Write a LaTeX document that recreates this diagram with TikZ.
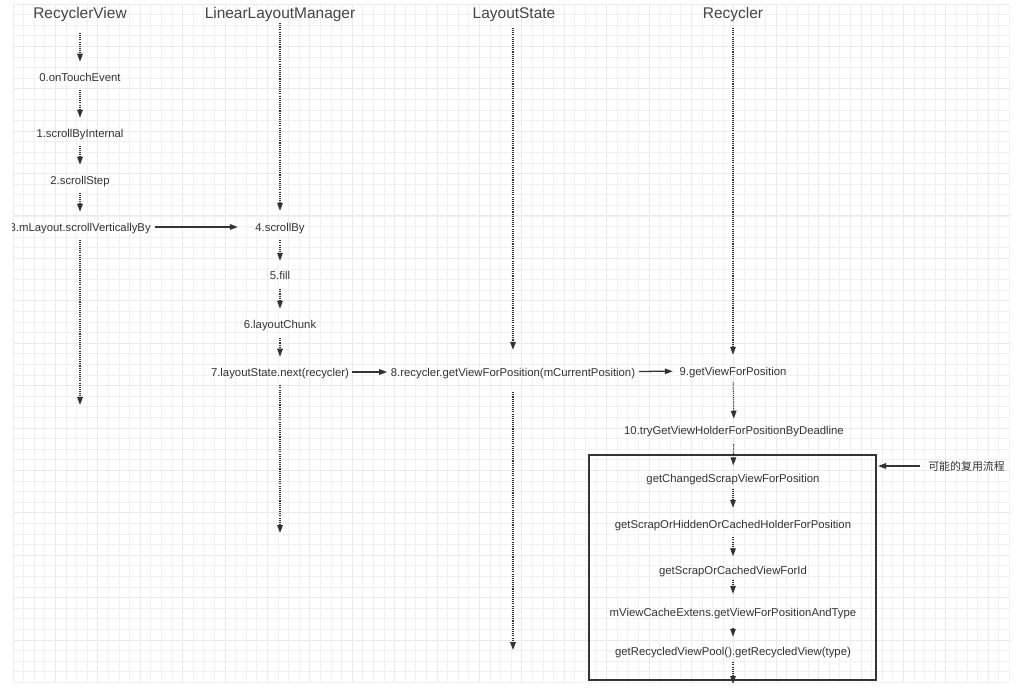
\documentclass[tikz,border=0pt]{standalone}
\usepackage{fontspec}
\setmainfont{Liberation Sans}
\newfontfamily\cjk{Noto Sans CJK SC}
\usetikzlibrary{arrows.meta}
\definecolor{ink}{HTML}{333333}
\definecolor{headink}{HTML}{454545}
\definecolor{gridminor}{HTML}{F1F1F1}
\definecolor{gridmajor}{HTML}{EAEAEA}
\tikzset{
  every node/.style={text=ink,inner sep=0pt},
  head/.style={font=\fontsize{11.6}{14}\selectfont,text=headink,text height=9.9pt,text depth=1.1pt},
  call/.style={font=\fontsize{8.5}{10}\selectfont,text height=7.4pt,text depth=1.1pt},
  note/.style={font=\cjk\fontsize{8.2}{10}\selectfont,text height=7.4pt,text depth=1.1pt},
  dotline/.style={-{Triangle[length=6pt,width=4.2pt]},draw=ink,line width=.9pt,dash pattern=on .8pt off .8pt,shorten <=5pt,shorten >=7pt},
  msg/.style={-{Triangle[length=6pt,width=4.2pt]},draw=ink,line width=.95pt},
  frame/.style={draw=ink,line width=1.1pt},
  fine/.style={draw=gridminor,line width=.7pt},
  coarse/.style={draw=gridmajor,line width=.75pt},
}

\begin{document}
\begin{tikzpicture}[x=.75pt,y=-.75pt]
\path[use as bounding box] (0,0) rectangle (1018,695);
\fill[white] (0,0) rectangle (1018,695);
% paper grid
\begin{scope}[shift={(13,4)}]
\draw[fine] (0,0) grid[step=7.95pt] (996.4,678.4);
\draw[coarse] (0,0) grid[step=31.8pt] (996.4,678.4);
\end{scope}
\clip (12,0) rectangle (1018,695);
% lifeline heads
\node[head] (rvHead) at (80,13) {RecyclerView};
\node[head] (llmHead) at (280,13) {LinearLayoutManager};
\node[head] (lsHead) at (514,13) {LayoutState};
\node[head] (recHead) at (733,13) {Recycler};
\coordinate (rvTop) at (80,33);
\coordinate (llmTop) at (280,23);
\coordinate (lsTop) at (513,28);
\coordinate (recTop) at (733,28);
\coordinate (rvEnd) at (80,405);
\coordinate (llmEnd) at (280,533);
\coordinate (lsEnd) at (513,650);
\coordinate (recEnd) at (733,684);
% RecyclerView
\node[call] (s0) at (80,77) {0.onTouchEvent};
\node[call] (s1) at (80,133) {1.scrollByInternal};
\node[call] (s2) at (80,180) {2.scrollStep};
\node[call,anchor=east] (s3) at (151,227) {3.mLayout.scrollVerticallyBy};
\draw[dotline,shorten <=0pt] (rvTop) -- (s0);
\draw[dotline] (s0) -- (s1);
\draw[dotline] (s1) -- (s2);
\draw[dotline] (s2) -- (s2 |- s3.north);
\draw[dotline,shorten >=0pt] (s3.south -| s2) -- (rvEnd);
% LinearLayoutManager
\node[call] (s4) at (280,227) {4.scrollBy};
\node[call] (s5) at (280,275) {5.fill};
\node[call] (s6) at (280,324) {6.layoutChunk};
\node[call] (s7) at (280,372) {7.layoutState.next(recycler)};
\draw[msg,shorten <=3pt,shorten >=13pt] (s3) -- (s4);
\draw[dotline,shorten <=0pt,shorten >=7.7pt] (llmTop) -- (s4);
\draw[dotline,shorten <=5.5pt,shorten >=6.2pt] (s4) -- (s5);
\draw[dotline,shorten <=6.2pt] (s5) -- (s6);
\draw[dotline,shorten <=6.2pt] (s6) -- (s7);
\draw[dotline,shorten <=5.5pt,shorten >=0pt] (s7) -- (llmEnd);
% LayoutState
\node[call] (s8) at (513,372) {8.recycler.getViewForPosition(mCurrentPosition)};
\draw[msg,shorten <=2.2pt,shorten >=2.6pt] (s7) -- (s8);
\draw[dotline,shorten <=0pt,shorten >=12.2pt] (lsTop) -- (s8);
\draw[dotline,shorten <=10.7pt,shorten >=0pt] (s8) -- (lsEnd);
% Recycler
\node[call] (s9) at (733,371) {9.getViewForPosition};
\node[call] (s10) at (734,430) {10.tryGetViewHolderForPositionByDeadline};
\draw[msg,shorten <=2.6pt,shorten >=4.9pt] (s8) -- (s9);
\draw[dotline,shorten <=0pt,shorten >=7.7pt] (recTop) -- (s9);
\draw[dotline,shorten <=4pt,shorten >=4pt] (s9) -- (s10);
% possible reuse path
\node[frame,minimum width=215.25pt,minimum height=168.75pt] (reuse) at (732.5,567.5) {};
\node[call] (c1) at (733,478) {getChangedScrapViewForPosition};
\node[call] (c2) at (733,524) {getScrapOrHiddenOrCachedHolderForPosition};
\node[call] (c3) at (733,570) {getScrapOrCachedViewForId};
\node[call] (c4) at (733,612) {mViewCacheExtens.getViewForPositionAndType};
\node[call] (c5) at (733,651) {getRecycledViewPool().getRecycledView(type)};
\draw[dotline,shorten <=6.2pt,shorten >=5pt] (s10) -- (c1);
\draw[dotline,shorten <=3.5pt,shorten >=7.7pt] (c1) -- (c2);
\draw[dotline,shorten <=5.5pt,shorten >=5.8pt] (c2) -- (c3);
\draw[dotline,shorten <=2.9pt,shorten >=9.2pt] (c3) -- (c4);
\draw[dotline,shorten <=7.7pt,shorten >=6.2pt] (c4) -- (c5);
\draw[dotline,shorten <=4pt,shorten >=0pt] (c5) -- (recEnd);
\node[note,anchor=west] (reuseNote) at (928,466) {可能的复用流程};
\draw[msg,shorten <=6pt,shorten >=1pt] (reuseNote) -- (reuseNote -| reuse.east);
\end{tikzpicture}
\end{document}
